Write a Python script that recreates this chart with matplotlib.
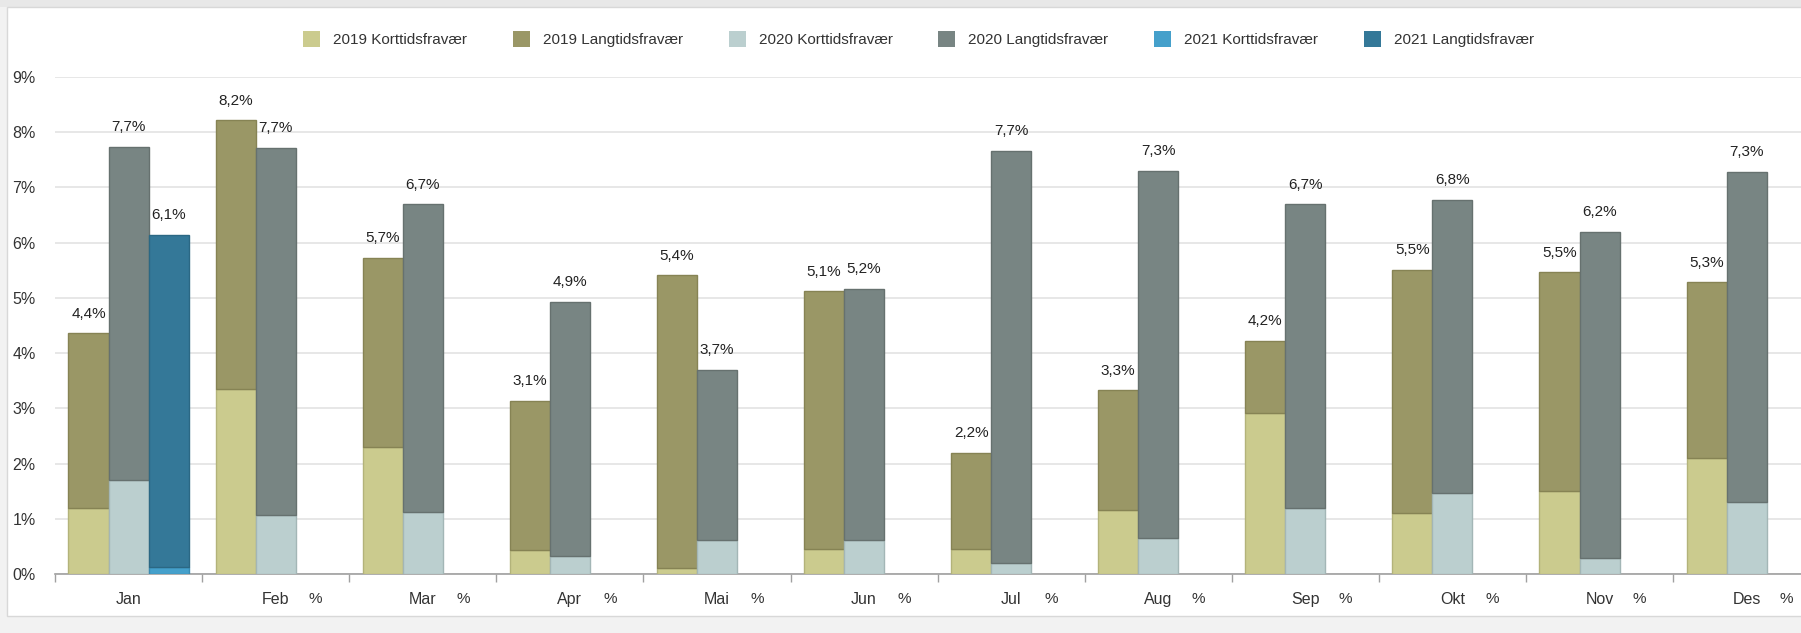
import numpy as np
import matplotlib
matplotlib.use("Agg")
import matplotlib.pyplot as plt
from matplotlib.patches import Rectangle, Patch
from matplotlib.transforms import blended_transform_factory

plt.rcParams['font.family'] = ['Liberation Sans', 'DejaVu Sans']

# Sykefravær per måned (prosent)
months = ['Jan', 'Feb', 'Mar', 'Apr', 'Mai', 'Jun',
          'Jul', 'Aug', 'Sep', 'Okt', 'Nov', 'Des']

short_2019 = [1.20, 3.35, 2.30, 0.43, 0.10, 0.46, 0.46, 1.15, 2.92, 1.10, 1.50, 2.10]
total_2019 = [4.36, 8.22, 5.73, 3.14, 5.41, 5.12, 2.20, 3.33, 4.22, 5.51, 5.46, 5.28]

short_2020 = [1.70, 1.07, 1.12, 0.32, 0.62, 0.62, 0.20, 0.65, 1.20, 1.47, 0.29, 1.30]
total_2020 = [7.74, 7.72, 6.70, 4.93, 3.70, 5.17, 7.66, 7.30, 6.70, 6.78, 6.20, 7.28]

short_2021 = [0.12] + [None] * 11
total_2021 = [6.14] + [None] * 11

years = ['2019', '2020', '2021']
colors_short = ['#cbcb8e', '#bbcfcf', '#45a0cb']
colors_long = ['#9a9766', '#788583', '#347898']
edge_short = ['#b3b37a', '#a3b6b6', '#3a8cb3']
edge_long = ['#868354', '#66716f', '#2b6884']

W, H = 1801, 633
fig = plt.figure(figsize=(W / 100, H / 100), dpi=100, facecolor='#f2f2f2')

# white panel, light grey strip along the top
fig.patches.append(Rectangle((0, 1 - 7 / H), 1, 7 / H, transform=fig.transFigure,
                             facecolor='#e8e8e8', edgecolor='none', zorder=-2))
fig.patches.append(Rectangle((7 / W, 17 / H), 1, (H - 7 - 17) / H,
                             transform=fig.transFigure, facecolor='white',
                             edgecolor='#d8d8d8', linewidth=1.0, zorder=-1))

cat_w = 147.1
ax = fig.add_axes([55 / W, 59 / H, 12 * cat_w / W, (574 - 77) / H])
ax.set_facecolor('none')

x = np.arange(len(months))
bw = 0.2725
offsets = [-bw, 0, bw]

shorts = [short_2019, short_2020, short_2021]
totals = [total_2019, total_2020, total_2021]
trans_lbl = blended_transform_factory(ax.transData, ax.transAxes)

for k in range(3):
    for i in range(len(months)):
        s = shorts[k][i]
        t = totals[k][i]
        xc = x[i] + offsets[k]
        if t is None:
            # empty month: only the bare label is drawn
            ax.text(xc, -0.037, '%', transform=trans_lbl, ha='center', va='top',
                    fontsize=11, color='#333333')
            continue
        ax.bar(xc, s, bw, color=colors_short[k], edgecolor=edge_short[k], linewidth=1, zorder=3)
        ax.bar(xc, t - s, bw, bottom=s, color=colors_long[k], edgecolor=edge_long[k],
               linewidth=1, zorder=3)
        ax.annotate(f'{t:.1f}%'.replace('.', ','), (xc, t), xytext=(0, 9),
                    textcoords='offset points', ha='center', va='bottom',
                    fontsize=11, color='#222222', zorder=4)

ax.set_xlim(-0.5, len(months) - 0.5)
ax.set_ylim(0, 9)
ax.set_yticks(range(10))
ax.set_yticklabels([f'{v}%' for v in range(10)])
ax.yaxis.grid(True, color='#e3e3e3', linewidth=1.2, zorder=0)
ax.set_axisbelow(True)

ax.set_xticks(np.arange(-0.5, len(months), 1))
ax.set_xticklabels([])
ax.set_xticks(x, minor=True)
ax.set_xticklabels(months, minor=True)
ax.tick_params(axis='x', which='major', length=6, color='#a0a0a0', width=1)
ax.tick_params(axis='x', which='minor', length=0, pad=13, labelsize=11.5, labelcolor='#333333')
ax.tick_params(axis='y', length=0, pad=14, labelsize=11.5, labelcolor='#333333')

for side in ['top', 'right', 'left']:
    ax.spines[side].set_visible(False)
ax.spines['bottom'].set_color('#a0a0a0')
ax.spines['bottom'].set_linewidth(1.2)

handles = []
labels = []
for k in range(3):
    handles.append(Patch(facecolor=colors_short[k], edgecolor='none'))
    labels.append(f'{years[k]} Korttidsfravær')
    handles.append(Patch(facecolor=colors_long[k], edgecolor='none'))
    labels.append(f'{years[k]} Langtidsfravær')

fig.legend(handles, labels, loc='center', bbox_to_anchor=(0.51, 1 - 39 / H), ncol=6,
           frameon=False, fontsize=11, handlelength=1.1, handleheight=1.3,
           handletextpad=0.85, columnspacing=3.0, labelcolor='#333333')

fig.savefig('out.png', dpi=100, facecolor=fig.get_facecolor())
